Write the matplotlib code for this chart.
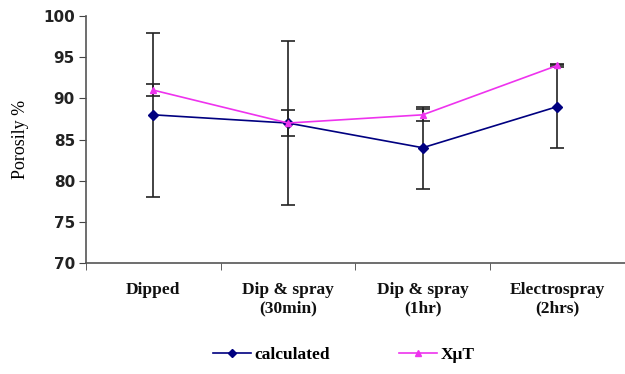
import matplotlib
matplotlib.use('Agg')
import matplotlib.pyplot as plt
from matplotlib.lines import Line2D
import numpy as np

categories = ['Dipped', 'Dip & spray\n(30min)', 'Dip & spray\n(1hr)', 'Electrospray\n(2hrs)']
calculated = [88, 87, 84, 89]
calculated_err = [10, 10, 5, 5]
xut = [91, 87, 88, 94]
xut_err = [0.7, 1.6, 0.7, 0.2]

fig = plt.figure(figsize=(6.25, 3.74), dpi=100)
ax = fig.add_axes([0.1376, 0.297, 0.862, 0.66])

x = np.arange(len(categories))

ax.errorbar(x, calculated, yerr=calculated_err, color='#000080', ecolor='#222222',
            elinewidth=1.2, capsize=5, capthick=1.2, marker='D', markersize=5.5,
            linewidth=1.2, zorder=3)
ax.errorbar(x, xut, yerr=xut_err, color='#EE33EE', ecolor='#222222',
            elinewidth=1.2, capsize=5, capthick=1.2, marker='^', markersize=5,
            linewidth=1.2, zorder=4)

ax.set_xlim(-0.5, 3.5)
ax.set_ylim(70, 100)
ax.set_yticks(range(70, 101, 5))
ax.set_yticklabels([str(v) for v in range(70, 101, 5)],
                   fontfamily='DejaVu Sans', fontweight='bold', fontsize=11, color='#222222')

# category labels centered, ticks between categories
ax.set_xticks(x)
ax.set_xticklabels(categories, fontfamily='Liberation Serif', fontweight='bold',
                   fontsize=12.5, color='#111111')
ax.tick_params(axis='x', which='major', length=0, pad=14)
ax.set_xticks(np.arange(-0.5, 4.0, 1.0), minor=True)
ax.tick_params(axis='x', which='minor', length=5, direction='out', color='#444444')
ax.tick_params(axis='y', length=5, direction='out', color='#444444', pad=3)

for s in ['top', 'right']:
    ax.spines[s].set_visible(False)
for s in ['left', 'bottom']:
    ax.spines[s].set_color('#555555')
    ax.spines[s].set_linewidth(1.2)

ax.set_ylabel('Porosily %', fontfamily='Liberation Serif', fontsize=13, labelpad=10)

handles = [Line2D([], [], color='#000080', marker='D', markersize=4.5, linewidth=1.2),
           Line2D([], [], color='#EE33EE', marker='^', markersize=4, linewidth=1.2)]
fig.legend(handles, ['calculated', 'X\u03bcT'], loc='center', bbox_to_anchor=(0.55, 0.05),
           ncol=2, frameon=False,
           prop={'family': 'Liberation Serif', 'weight': 'bold', 'size': 12.5},
           handlelength=2.2, columnspacing=4, handletextpad=0.2)

fig.savefig('out.png', dpi=100)
